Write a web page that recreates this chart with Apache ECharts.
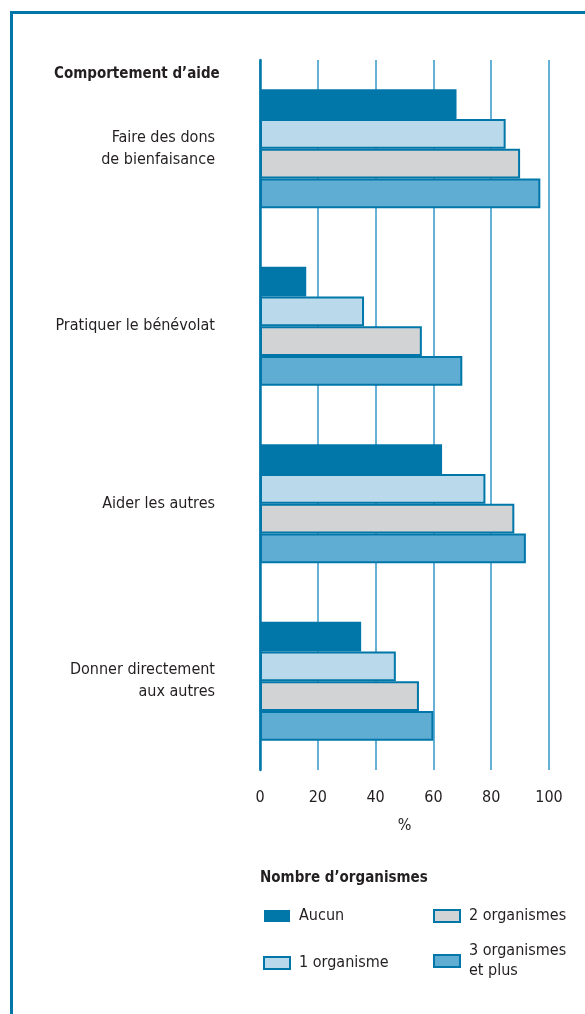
<!DOCTYPE html>
<html><head><meta charset="utf-8">
<script src="https://cdn.jsdelivr.net/npm/echarts@6/dist/echarts.min.js"></script>
<style>html,body{margin:0;padding:0;background:#fff}#c{width:585px;height:1014px}</style>
</head><body><div id="c"></div>
<script>
const categories = ['Faire des dons\nde bienfaisance', 'Pratiquer le bénévolat', 'Aider les autres', 'Donner directement\naux autres'];
const seriesNames = ['Aucun', '1 organisme', '2 organismes', '3 organismes et plus'];
const aucun = [68, 16, 63, 35];
const unOrg = [85, 36, 78, 47];
const deuxOrg = [90, 56, 88, 55];
const troisOrg = [97, 70, 92, 60];
const xTicks = [0, 20, 40, 60, 80, 100];

const FONT = "'Liberation Sans Narrow', 'DejaVu Sans Condensed', Arial, sans-serif";
const TXT = '#231f20';
const BORDER = '#0077a8';
const fills = ['#0077a8', '#badaeb', '#d1d3d4', '#5fadd3'];
const values = [aucun, unOrg, deuxOrg, troisOrg];

const chart = echarts.init(document.getElementById('c'), null, {renderer: 'canvas'});
const series = seriesNames.map((n, i) => ({
  name: n, type: 'bar', data: values[i],
  barGap: '0%', barCategoryGap: '33%',
  itemStyle: {color: fills[i], borderColor: BORDER, borderWidth: i === 0 ? 0 : 2},
  emphasis: {disabled: true}, animation: false
}));

const legendBase = {orient: 'vertical', itemWidth: 26, itemHeight: 12, icon: 'rect', selectedMode: false,
  textStyle: {fontFamily: FONT, fontSize: 16, color: TXT, lineHeight: 20, padding: [0, 0, 0, 4]}};

chart.setOption({
  animation: false,
  title: {text: 'Comportement d\u2019aide', left: 49, top: 62,
    textStyle: {fontFamily: FONT, fontWeight: 'bold', fontSize: 15, color: TXT}},
  grid: {left: 260, right: 36, top: 60, bottom: 244, containLabel: false},
  xAxis: {type: 'value', min: 0, max: 100, interval: 20,
    axisLine: {show: false}, axisTick: {show: false},
    axisLabel: {margin: 20, fontFamily: FONT, fontSize: 16, color: TXT,
      formatter: v => xTicks.includes(v) ? String(v) : ''},
    splitLine: {show: true, lineStyle: {color: '#3399c9', width: 1.5}},
    name: '%', nameLocation: 'middle', nameGap: 48,
    nameTextStyle: {fontFamily: FONT, fontSize: 16, color: TXT}},
  yAxis: {type: 'category', data: categories, inverse: true,
    axisLine: {show: true, lineStyle: {color: BORDER, width: 2.5}},
    axisTick: {show: false},
    axisLabel: {margin: 45, fontFamily: FONT, fontSize: 16, color: TXT, lineHeight: 22, align: 'right'}},
  legend: [
    Object.assign({}, legendBase, {left: 258, top: 901, itemGap: 27, data: ['Aucun', '1 organisme']}),
    Object.assign({}, legendBase, {left: 428, top: 901, itemGap: 15, data: ['2 organismes', '3 organismes et plus'],
      formatter: n => n === '3 organismes et plus' ? '3 organismes\net plus' : n})
  ],
  graphic: [
    {type: 'text', left: 260, top: 871, style: {text: 'Nombre d\u2019organismes', font: "bold 15px " + FONT, fill: TXT}},
    {type: 'line', shape: {x1: 11.5, y1: 11, x2: 11.5, y2: 1014}, style: {stroke: BORDER, lineWidth: 3}},
    {type: 'line', shape: {x1: 10, y1: 12.5, x2: 585, y2: 12.5}, style: {stroke: BORDER, lineWidth: 3}}
  ],
  series: series
});
</script></body></html>
